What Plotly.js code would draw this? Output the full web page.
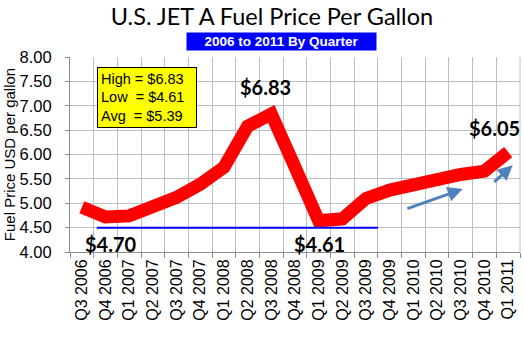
<!DOCTYPE html>
<html><head><meta charset="utf-8">
<script src="https://cdn.plot.ly/plotly-3.0.1.min.js"></script>
<style>html,body{margin:0;padding:0;background:#fff}#chart{width:524px;height:338px}</style>
</head><body><div id="chart"></div>
<script>
const quarters = ["Q3 2006","Q4 2006","Q1 2007","Q2 2007","Q3 2007","Q4 2007","Q1 2008","Q2 2008","Q3 2008","Q4 2008","Q1 2009","Q2 2009","Q3 2009","Q4 2009","Q1 2010","Q2 2010","Q3 2010","Q4 2010","Q1 2011"];
const prices = [4.92,4.72,4.74,4.90,5.12,5.39,5.74,6.58,6.83,5.74,4.64,4.68,5.10,5.27,5.39,5.53,5.59,5.66,6.05];
const statsLines = ["High = $6.83","Low &nbsp;= $4.61","Avg &nbsp;= $5.39"];
const calloutQuarters = ["Q4 2006","Q3 2008","Q1 2009","Q1 2011"];
const calloutLabels = ["$4.70","$6.83","$4.61","$6.05"];
const lowLineLevel = 4.50;

// style/placement of each callout (not data)
const calloutPlace = [
  {below:true, dx:5},
  {below:false, dx:-6, dy:0.55},
  {below:true, dx:1},
  {below:false, dx:-14, dy:0.49}
];
const calloutAnn = calloutQuarters.map((q, k) => {
  const i = quarters.indexOf(q);
  const p = calloutPlace[k];
  return {
    x: q, y: p.below ? 4.17 : prices[i] + p.dy, xref:"x", yref:"y",
    text: "<b>"+calloutLabels[k]+"</b>", showarrow:false, xshift:p.dx,
    font:{family:"Lato, Open Sans, sans-serif", size:20, color:"#000"},
    yanchor:"middle"
  };
});

const layout = {
  width:524, height:338,
  margin:{l:70, r:4, t:57, b:86},
  paper_bgcolor:"#fff", plot_bgcolor:"#fff",
  showlegend:false,
  title:{text:"U.S. JET A Fuel Price Per Gallon", x:0.519, xanchor:"center", y:0.95, yanchor:"middle",
         font:{family:"Lato, Open Sans, sans-serif", size:23.5, color:"#000"}},
  xaxis:{type:"category", tickson:"boundaries", tickangle:-90,
         showgrid:true, gridcolor:"#bfbfbf", gridwidth:1,
         showline:true, linecolor:"#8c8c8c", linewidth:1, mirror:false,
         ticks:"outside", ticklen:5, tickcolor:"#8c8c8c",
         tickfont:{family:"Arial, Liberation Sans, sans-serif", size:16, color:"#000"},
         range:[-0.5, 18.5], fixedrange:true},
  yaxis:{range:[4,8], dtick:0.5, tickformat:".2f",
         showgrid:true, gridcolor:"#bfbfbf", gridwidth:1,
         showline:true, linecolor:"#8c8c8c", linewidth:1,
         ticks:"outside", ticklen:4, tickcolor:"#8c8c8c",
         ticklabelstandoff:10,
         zeroline:false,
         tickfont:{family:"Arial, Liberation Sans, sans-serif", size:16.5, color:"#000"},
         title:{text:"Fuel Price USD per gallon", standoff:0,
                font:{family:"Arial, Liberation Sans, sans-serif", size:15, color:"#000"}}},
  shapes:[
    {type:"line", xref:"x", yref:"y", x0:0.63, x1:12.5, y0:lowLineLevel, y1:lowLineLevel,
     line:{color:"#0000ff", width:2}},
    {type:"line", xref:"paper", yref:"paper", x0:1, x1:1, y0:0, y1:1, line:{color:"#bfbfbf", width:1}}
  ],
  annotations:[
    {xref:"paper", yref:"paper", x:0.469, y:1.079, xanchor:"center", yanchor:"middle",
     text:"<b>2006 to 2011 By Quarter</b>", showarrow:false, bgcolor:"#0000ff",
     width:189, height:17, borderpad:0,
     font:{family:"Arial, Liberation Sans, sans-serif", size:13.5, color:"#fff"}},
    {xref:"paper", yref:"paper", x:0.17, y:0.792, xanchor:"center", yanchor:"middle",
     text:statsLines.join("<br>"), align:"left", showarrow:false,
     bgcolor:"#ffff00", bordercolor:"#000", borderwidth:1, borderpad:3,
     width:92, height:53,
     font:{family:"Arial, Liberation Sans, sans-serif", size:14.5, color:"#000"}},
    {xref:"x", yref:"y", axref:"x", ayref:"y", x:16.08, y:5.29, ax:13.68, ay:4.88,
     showarrow:true, arrowhead:2, arrowsize:1, arrowwidth:3, arrowcolor:"#4f81bd", text:""},
    {xref:"x", yref:"y", axref:"x", ayref:"y", x:18.19, y:5.78, ax:17.35, ay:5.41,
     showarrow:true, arrowhead:2, arrowsize:1, arrowwidth:3, arrowcolor:"#4f81bd", text:""}
  ].concat(calloutAnn)
};

Plotly.newPlot("chart", [{
  x: quarters, y: prices, type:"scatter", mode:"lines",
  line:{color:"#ff0000", width:13, shape:"linear"}, hoverinfo:"skip"
}], layout, {staticPlot:true, displayModeBar:false});
</script></body></html>
